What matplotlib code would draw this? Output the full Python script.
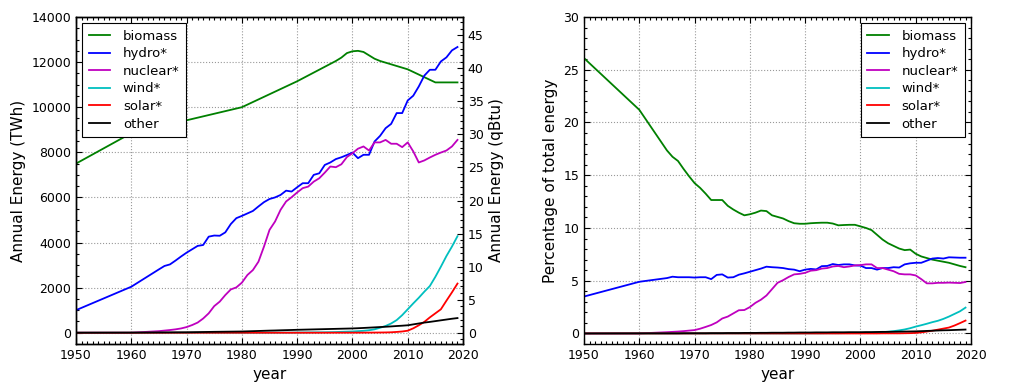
import matplotlib
matplotlib.use('Agg')
import matplotlib.pyplot as plt
from matplotlib.ticker import MultipleLocator

# ---------------- data ----------------
YEARS = [1950, 1960] + list(range(1965, 2020))

BIO_YEARS = [1950, 1960, 1970, 1980, 1990, 1997, 1998, 1999, 2000, 2001,
             2002, 2003, 2004, 2005, 2010, 2015, 2019]
biomass_twh = [7500, 8850, 9420, 10000, 11150, 12050, 12200, 12400, 12480, 12500,
               12450, 12300, 12150, 12050, 11680, 11100, 11100]

hydro_twh = [1000, 2040,
             2810, 2960, 3030, 3200, 3380,
             3550, 3700, 3850, 3890, 4260, 4310, 4300, 4450, 4820, 5080,
             5180, 5290, 5400, 5600, 5790, 5930, 6000, 6110, 6300, 6260,
             6450, 6630, 6630, 7000, 7070, 7440, 7550, 7700, 7780, 7880,
             7990, 7740, 7890, 7890, 8480, 8730, 9070, 9260, 9740, 9740,
             10300, 10510, 10920, 11400, 11660, 11660, 12030, 12210, 12520, 12670]

nuclear_twh = [0, 0,
               70, 95, 120, 150, 190,
               250, 340, 450, 630, 860, 1180, 1380, 1670, 1920, 2010,
               2220, 2560, 2780, 3150, 3820, 4560, 4930, 5450, 5820, 6010,
               6220, 6410, 6480, 6700, 6850, 7100, 7370, 7340, 7470, 7790,
               7960, 8160, 8260, 8080, 8440, 8440, 8550, 8380, 8380, 8230,
               8440, 8040, 7550, 7640, 7770, 7890, 7990, 8080, 8260, 8550]

wind_twh = [0, 0,
            0, 0, 0, 0, 0,
            0, 0, 0, 0, 0, 0, 0, 0, 0, 0,
            0, 0, 0, 0, 0, 2, 3, 4, 5, 6,
            10, 12, 14, 16, 18, 20, 25, 30, 40, 48,
            55, 70, 85, 110, 150, 220, 300, 410, 560, 780,
            1040, 1300, 1550, 1820, 2070, 2480, 2930, 3400, 3820, 4280]

solar_twh = [0, 0,
             0, 0, 0, 0, 0,
             0, 0, 0, 0, 0, 0, 0, 0, 0, 0,
             0, 0, 0, 0, 0, 0, 0, 0, 0, 0,
             0, 0, 0, 0, 0, 1, 1, 2, 2, 2,
             3, 3, 4, 5, 7, 10, 13, 20, 35, 55,
             90, 195, 330, 480, 680, 860, 1040, 1420, 1790, 2180]

other_twh = [0, 5,
             12, 14, 16, 18, 19,
             20, 24, 28, 32, 36, 40, 43, 46, 49, 52,
             55, 62, 70, 78, 86, 94, 100, 108, 115, 122,
             130, 136, 142, 148, 154, 160, 166, 172, 178, 184,
             190, 200, 212, 225, 238, 252, 265, 280, 297, 312,
             330, 370, 410, 450, 480, 515, 550, 585, 620, 650]

biomass_pct = [26.1, 21.2,
               17.35, 16.75, 16.35, 15.6, 14.9,
               14.25, 13.8, 13.25, 12.65, 12.65, 12.65, 12.1, 11.75, 11.45, 11.2,
               11.3, 11.45, 11.65, 11.6, 11.2, 11.05, 10.9, 10.65, 10.45, 10.4,
               10.4, 10.45, 10.48, 10.5, 10.5, 10.42, 10.25, 10.28, 10.3, 10.3,
               10.15, 10.0, 9.8, 9.35, 8.9, 8.55, 8.3, 8.05, 7.9, 7.95,
               7.55, 7.3, 7.15, 7.0, 6.9, 6.8, 6.7, 6.55, 6.4, 6.28]

hydro_pct = [3.5, 4.9,
             5.25, 5.38, 5.33, 5.33, 5.33,
             5.3, 5.33, 5.33, 5.15, 5.55, 5.6, 5.3, 5.33, 5.57, 5.7,
             5.85, 6.0, 6.15, 6.33, 6.28, 6.25, 6.2, 6.1, 6.05, 5.9,
             6.05, 6.12, 6.07, 6.38, 6.4, 6.58, 6.49, 6.55, 6.55, 6.45,
             6.43, 6.2, 6.2, 6.05, 6.2, 6.2, 6.28, 6.25, 6.55, 6.65,
             6.7, 6.7, 6.9, 7.1, 7.15, 7.1, 7.22, 7.2, 7.18, 7.18]

nuclear_pct = [0, 0,
               0.12, 0.15, 0.18, 0.22, 0.27,
               0.32, 0.45, 0.62, 0.8, 1.05, 1.42, 1.6, 1.9, 2.2, 2.22,
               2.5, 2.9, 3.2, 3.6, 4.2, 4.8, 5.05, 5.35, 5.6, 5.65,
               5.75, 5.95, 6.0, 6.15, 6.2, 6.35, 6.4, 6.28, 6.35, 6.45,
               6.48, 6.55, 6.55, 6.2, 6.2, 6.05, 5.9, 5.65, 5.6, 5.6,
               5.5, 5.15, 4.75, 4.75, 4.8, 4.8, 4.82, 4.8, 4.78, 4.88]

wind_pct = [0, 0,
            0, 0, 0, 0, 0,
            0, 0, 0, 0, 0, 0, 0, 0, 0, 0,
            0, 0, 0, 0, 0, 0, 0, 0, 0, 0,
            0.01, 0.01, 0.01, 0.01, 0.02, 0.02, 0.02, 0.03, 0.03, 0.04,
            0.05, 0.06, 0.07, 0.09, 0.12, 0.17, 0.22, 0.29, 0.38, 0.5,
            0.65, 0.78, 0.92, 1.07, 1.2, 1.38, 1.6, 1.85, 2.1, 2.45]

solar_pct = [0, 0,
             0, 0, 0, 0, 0,
             0, 0, 0, 0, 0, 0, 0, 0, 0, 0,
             0, 0, 0, 0, 0, 0, 0, 0, 0, 0,
             0, 0, 0, 0, 0, 0, 0, 0, 0, 0,
             0, 0, 0, 0, 0.01, 0.01, 0.01, 0.01, 0.02, 0.03,
             0.05, 0.1, 0.18, 0.26, 0.36, 0.46, 0.56, 0.75, 0.98, 1.22]

other_pct = [0, 0.01,
             0.01, 0.01, 0.01, 0.02, 0.02,
             0.02, 0.02, 0.02, 0.03, 0.03, 0.03, 0.04, 0.04, 0.04, 0.05,
             0.05, 0.05, 0.06, 0.06, 0.07, 0.07, 0.07, 0.08, 0.08, 0.09,
             0.09, 0.09, 0.1, 0.1, 0.1, 0.11, 0.11, 0.11, 0.12, 0.12,
             0.12, 0.13, 0.13, 0.14, 0.15, 0.15, 0.16, 0.17, 0.18, 0.19,
             0.2, 0.22, 0.24, 0.26, 0.28, 0.3, 0.31, 0.33, 0.35, 0.37]

LABELS = ['biomass', 'hydro*', 'nuclear*', 'wind*', 'solar*', 'other']
COLORS = ['g', 'b', 'm', 'c', 'r', 'k']
TWH_PER_QBTU = 293.07

# ---------------- style ----------------
plt.rcParams.update({
    'font.family': ['DejaVu Sans'],
    'xtick.direction': 'in', 'ytick.direction': 'in',
    'xtick.top': True, 'ytick.right': True,
    'xtick.major.size': 4, 'ytick.major.size': 4,
    'xtick.minor.size': 2, 'ytick.minor.size': 2,
    'xtick.major.width': 0.8, 'ytick.major.width': 0.8,
    'xtick.minor.width': 0.8, 'ytick.minor.width': 0.8,
    'xtick.labelsize': 9, 'ytick.labelsize': 9,
    'axes.linewidth': 1.0,
})

fig = plt.figure(figsize=(10.23, 3.91), dpi=100)
fig.patch.set_facecolor('white')
ax1 = fig.add_axes([0.0743, 0.1202, 0.3783, 0.8363])
ax2 = fig.add_axes([0.5709, 0.1202, 0.3783, 0.8363])

LW = 1.3

# left panel
twh_series = [biomass_twh, hydro_twh, nuclear_twh, wind_twh, solar_twh, other_twh]
for i, (lab, col, vals) in enumerate(zip(LABELS, COLORS, twh_series)):
    xs = BIO_YEARS if i == 0 else YEARS
    ax1.plot(xs, vals, color=col, lw=LW, label=lab)
ax1.set_xlim(1950, 2020)
ax1.set_ylim(-500, 14000)
ax1.xaxis.set_major_locator(MultipleLocator(10))
ax1.xaxis.set_minor_locator(MultipleLocator(1))
ax1.yaxis.set_major_locator(MultipleLocator(2000))
ax1.yaxis.set_minor_locator(MultipleLocator(500))
ax1.tick_params(axis='y', which='both', right=False)
ax1.grid(True, which='major', linestyle=':', color='0.6', linewidth=0.8)
ax1.set_xlabel('year', fontsize=11)
ax1.set_ylabel('Annual Energy (TWh)', fontsize=11)
leg1 = ax1.legend(loc='upper left', fontsize=9.5, fancybox=False, framealpha=1,
                  edgecolor='black', handlelength=1.6, handletextpad=1.0,
                  labelspacing=0.35, borderpad=0.5, borderaxespad=0.45)
leg1.get_frame().set_linewidth(0.8)

ax1b = ax1.twinx()
ax1b.set_ylim(-500 / TWH_PER_QBTU, 14000 / TWH_PER_QBTU)
ax1b.yaxis.set_major_locator(MultipleLocator(5))
ax1b.yaxis.set_minor_locator(MultipleLocator(1))
ax1b.tick_params(axis='y', which='both', direction='in', labelsize=9)
ax1b.set_ylabel('Annual Energy (qBtu)', fontsize=11)

# right panel
pct_series = [biomass_pct, hydro_pct, nuclear_pct, wind_pct, solar_pct, other_pct]
for lab, col, vals in zip(LABELS, COLORS, pct_series):
    ax2.plot(YEARS, vals, color=col, lw=LW, label=lab)
ax2.set_xlim(1950, 2020)
ax2.set_ylim(-1, 30)
ax2.xaxis.set_major_locator(MultipleLocator(10))
ax2.xaxis.set_minor_locator(MultipleLocator(1))
ax2.yaxis.set_major_locator(MultipleLocator(5))
ax2.yaxis.set_minor_locator(MultipleLocator(1))
ax2.grid(True, which='major', linestyle=':', color='0.6', linewidth=0.8)
ax2.set_xlabel('year', fontsize=11)
ax2.set_ylabel('Percentage of total energy', fontsize=11)
leg2 = ax2.legend(loc='upper right', fontsize=9.5, fancybox=False, framealpha=1,
                  edgecolor='black', handlelength=1.6, handletextpad=1.0,
                  labelspacing=0.35, borderpad=0.5, borderaxespad=0.45)
leg2.get_frame().set_linewidth(0.8)

fig.savefig('out.png', dpi=100, facecolor='white')
